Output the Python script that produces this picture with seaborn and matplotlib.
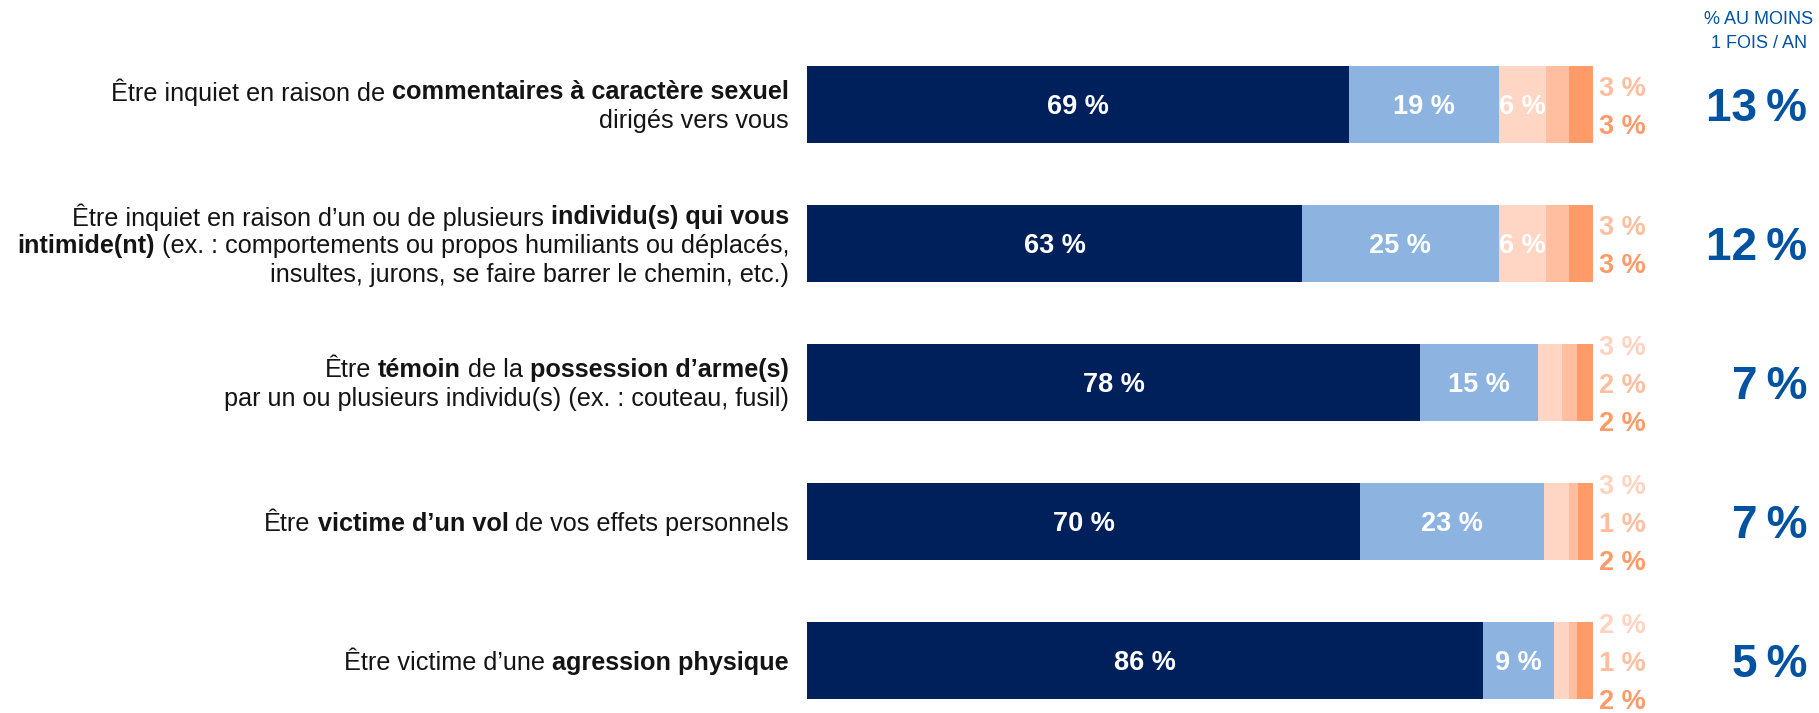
import matplotlib
matplotlib.use("Agg")
import matplotlib.pyplot as plt
import matplotlib.transforms as mtransforms
import numpy as np
import seaborn as sns

# Chart data (unrounded where the bar widths show it)
items = ["commentaires", "intimidation", "arme", "vol", "agression"]
jamais = [69, 63, 78, 70.4, 86]
rarement = [19, 25, 15, 23.4, 9]
parfois = [6, 6, 3, 3.2, 2]
souvent = [3, 3, 2, 1.1, 1]
tres_souvent = [3, 3, 2, 1.9, 2]
au_moins_une_fois = [13, 12, 7, 7, 5]

# Row labels: each line is a list of (text, bold) pieces
row_labels = [
    [[("Être inquiet en raison de ", False), ("commentaires à caractère sexuel", True)],
     [("dirigés vers vous", False)]],
    [[("Être inquiet en raison d’un ou de plusieurs ", False), ("individu(s) qui vous", True)],
     [("intimide(nt)", True), (" (ex. : comportements ou propos humiliants ou déplacés,", False)],
     [("insultes, jurons, se faire barrer le chemin, etc.)", False)]],
    [[("Être ", False), ("témoin", True), (" de la ", False), ("possession d’arme(s)", True)],
     [("par un ou plusieurs individu(s) (ex. : couteau, fusil)", False)]],
    [[("Être ", False), ("victime d’un vol", True), (" de vos effets personnels", False)]],
    [[("Être victime d’une ", False), ("agression physique", True)]],
]
header = ["% AU MOINS", "1 FOIS / AN"]

SERIES = [jamais, rarement, parfois, souvent, tres_souvent]
COLORS = ["#00205B", "#8DB4E0", "#FFD5C3", "#FFBE9F", "#FF9A69"]
OUT_COLORS = ["white", "white", "#FFD3C0", "#FFBE9F", "#FF9A69"]
BIG_BLUE = "#0152A1"
TEXT_COLOR = "#141414"

W, H = 1819, 713
LABEL_FS = 18.2
VALUE_FS = 19.5
LINE_GAP = 29      # pixels between label lines
STACK_GAP = 38     # pixels between stacked outside values

sns.set_style("white")
plt.rcParams['font.family'] = ['Liberation Sans', 'DejaVu Sans']

fig = plt.figure(figsize=(W / 100, H / 100), dpi=100)
ax = fig.add_axes([807 / W, 0, 786 / W, 678 / H])

# Stacked bars: draw cumulative totals, longest first
cum = np.cumsum(np.array(SERIES), axis=0)
for k in reversed(range(len(SERIES))):
    sns.barplot(x=cum[k], y=items, orient="h", color=COLORS[k], saturation=1,
                width=0.56, errorbar=None, linewidth=0, ax=ax)

ax.set_xlim(0, 100)
ax.set_ylim(4.378, -0.5)
ax.axis("off")

# Value labels: inside the segment when wide enough, otherwise stacked to the right
for i in range(len(items)):
    outside = []
    for k, series in enumerate(SERIES):
        val = series[i]
        if k < 2 or val >= 5:
            ax.text(cum[k][i] - val / 2, i, f"{val:.0f} %", ha="center", va="center_baseline",
                    color="white", fontsize=VALUE_FS, fontweight="bold")
        else:
            outside.append((val, OUT_COLORS[k]))
    n = len(outside)
    for j, (val, col) in enumerate(outside):
        dy = ((n - 1) / 2 - j) * STACK_GAP - 1
        ax.annotate(f"{val:.0f} %", xy=(100, i), xytext=(6, dy), textcoords="offset pixels",
                    ha="left", va="center_baseline", color=col, fontsize=VALUE_FS,
                    fontweight="bold", annotation_clip=False)

# Right-hand column: share at least once a year
trans = mtransforms.blended_transform_factory(fig.transFigure, ax.transData)
for i, val in enumerate(au_moins_une_fois):
    ax.text(1807 / W, i, f"{val}\u2009%", transform=trans, ha="right", va="center_baseline",
            color=BIG_BLUE, fontsize=33, fontweight="bold")

fig.text(1759 / W, 1 - 20 / H, header[0], ha="center", va="center", color=BIG_BLUE, fontsize=13)
fig.text(1759 / W, 1 - 44 / H, header[1], ha="center", va="center", color=BIG_BLUE, fontsize=13)

# Row labels with mixed bold pieces, right aligned against the bars
renderer = fig.canvas.get_renderer()
probe = fig.text(0, 0, "a a", fontsize=LABEL_FS)
probe2 = fig.text(0, 0, "aa", fontsize=LABEL_FS)
space_w = probe.get_window_extent(renderer).width - probe2.get_window_extent(renderer).width
probe.remove()
probe2.remove()

x_right = 789 / W
for i, lines in enumerate(row_labels):
    n = len(lines)
    for j, pieces in enumerate(lines):
        dy = ((n - 1) / 2 - j) * LINE_GAP
        offset = 0.0
        for text, bold in reversed(pieces):
            if text.endswith(" "):
                offset += space_w
            t = ax.annotate(text.strip(), xy=(x_right, i), xycoords=trans,
                            xytext=(-offset, dy), textcoords="offset pixels",
                            ha="right", va="center_baseline", color=TEXT_COLOR,
                            fontsize=LABEL_FS, fontweight="bold" if bold else "normal",
                            annotation_clip=False)
            offset += t.get_window_extent(renderer).width
            if text.startswith(" "):
                offset += space_w

fig.savefig("out.png", dpi=100)
